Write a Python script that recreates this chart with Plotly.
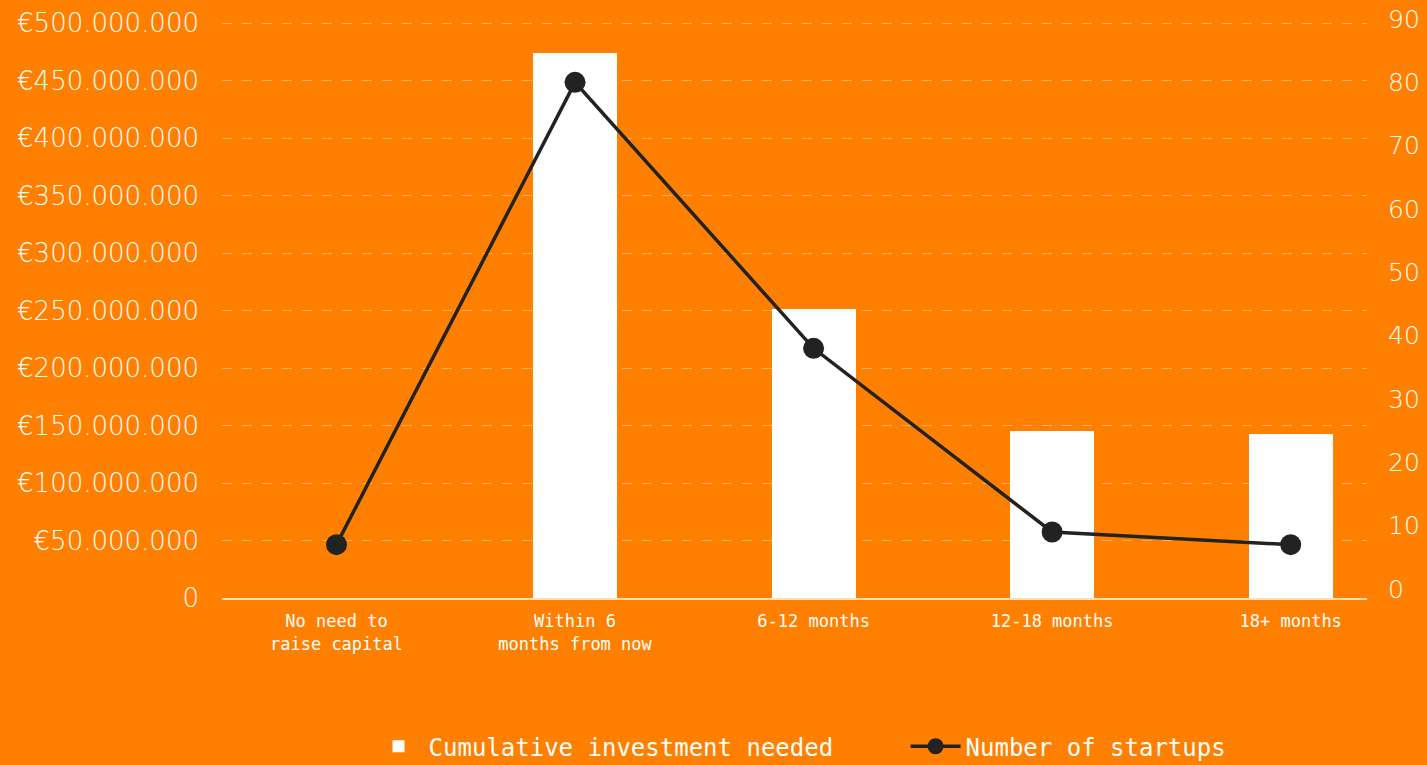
import plotly.graph_objects as go

categories = ["No need to<br>raise capital", "Within 6<br>months from now", "6-12 months", "12-18 months", "18+ months"]
investment = [0, 474_000_000, 252_000_000, 146_000_000, 143_000_000]
startups = [7, 80, 38, 9, 7]

left_ticks = [0, 50e6, 100e6, 150e6, 200e6, 250e6, 300e6, 350e6, 400e6, 450e6, 500e6]
right_ticks = [0, 10, 20, 30, 40, 50, 60, 70, 80, 90]


def euro(v):
    if v == 0:
        return "0"
    return "€" + f"{int(v):,}".replace(",", ".")


left_text = [euro(v) for v in left_ticks]

BG = "#FF8000"
LIGHT = "#FFFFFF"
GRID = "rgba(255,255,255,0.38)"
DARK = "#222222"
MONO = "DejaVu Sans Mono, Liberation Mono, monospace"
SANS = "DejaVu Sans, Inter, sans-serif"

xrange_ = [-0.48, 4.32]

fig = go.Figure()
fig.add_trace(go.Bar(
    x=categories, y=investment, name="Cumulative investment needed",
    marker=dict(color="#FFFFFF", line=dict(width=0)), width=0.352,
    xaxis="x", yaxis="y", legend="legend",
))
fig.add_trace(go.Scatter(
    x=categories, y=startups, name="Number of startups",
    mode="lines+markers", line=dict(color=DARK, width=3.5),
    marker=dict(color=DARK, size=21), xaxis="x2", yaxis="y2", legend="legend2",
))

top_px, bottom_px = 19, 598
area = bottom_px - top_px
left_top = 503e6
px_per_unit = (bottom_px - 23) / 500e6
left_domain_top = (bottom_px - 23 + (left_top - 500e6) * px_per_unit) / area

legend_common = dict(orientation="h", xanchor="left", yref="container", y=0.024, yanchor="middle",
                     font=dict(family=MONO, size=24, color=LIGHT),
                     itemwidth=50, bgcolor="rgba(0,0,0,0)")

fig.update_layout(
    width=1427, height=765,
    paper_bgcolor=BG, plot_bgcolor="rgba(0,0,0,0)",
    margin=dict(l=222, r=60, t=top_px, b=765 - bottom_px, autoexpand=False),
    showlegend=True,
    legend=dict(x=0.128, **legend_common),
    legend2=dict(x=0.597, **legend_common),
    xaxis=dict(type="category", range=xrange_, showgrid=False,
               showline=True, linecolor="rgba(255,240,220,0.85)", linewidth=2,
               tickfont=dict(family=MONO, size=17, color=LIGHT),
               ticks="", ticklabelstandoff=7, anchor="y"),
    xaxis2=dict(type="category", range=xrange_, visible=False, overlaying="x", anchor="y2",
                categoryorder="array", categoryarray=categories),
    yaxis=dict(range=[0, left_top], domain=[0, left_domain_top], anchor="x",
               tickvals=left_ticks, ticktext=left_text,
               tickfont=dict(family=SANS, size=26, color=LIGHT, weight=200),
               showgrid=True, gridcolor=GRID, griddash="10px,10px", gridwidth=1,
               zeroline=False, showline=False, ticks="", ticklabelstandoff=22),
    yaxis2=dict(range=[0, 90], domain=[(bottom_px - 589) / area, 1],
                anchor="x2", side="right",
                tickvals=right_ticks,
                tickfont=dict(family=SANS, size=25, color=LIGHT, weight=200),
                showgrid=False, zeroline=False, showline=False, ticks="", ticklabelstandoff=20),
    bargap=0,
)

fig.write_html("out.html")
